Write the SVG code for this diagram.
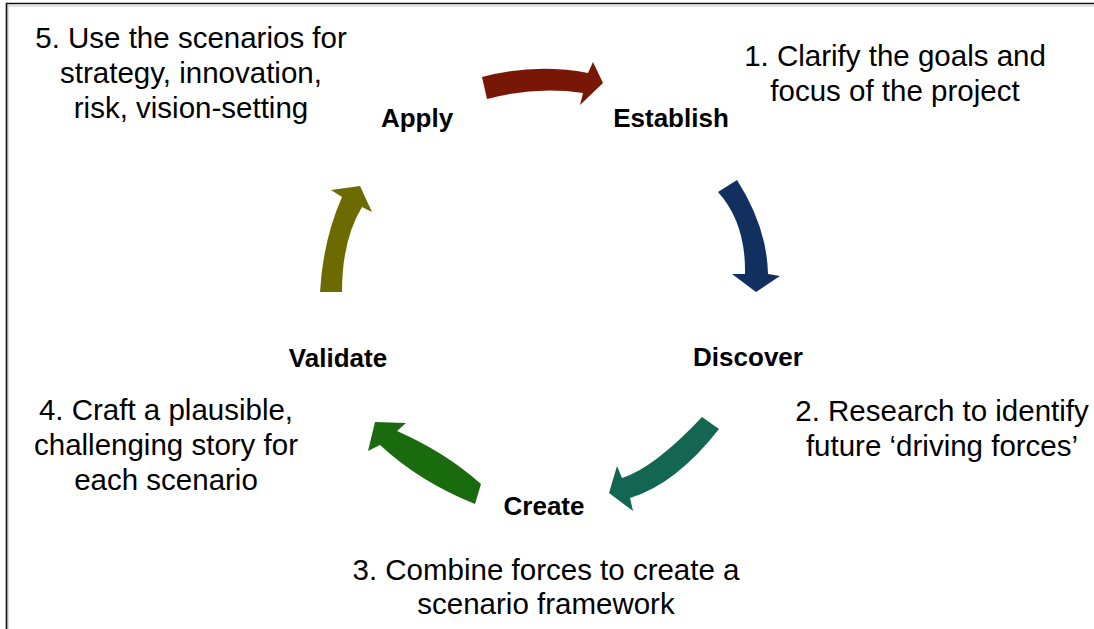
<svg xmlns="http://www.w3.org/2000/svg" width="1094" height="629" viewBox="0 0 1094 629">
  <style>
    .step { font-family: "Liberation Sans", Arial, sans-serif; font-size: 29.5px; fill: #000; text-anchor: middle; }
    .stage { font-family: "Liberation Sans", Arial, sans-serif; font-size: 26px; font-weight: bold; fill: #000; text-anchor: middle; }
    .frame { fill: none; stroke: #111; stroke-width: 1.6; }
    .frame-shade { fill: none; stroke: #c8c8c8; stroke-width: 1.2; }
  </style>

  <rect x="0" y="0" width="1094" height="629" fill="#fff"/>

  <!-- frame: top and left edges -->
  <path class="frame-shade" d="M8,629 V6 H1094"/>
  <path class="frame" d="M6.5,629 V3.5 H1094"/>

  <!-- curved cycle arrows -->
  <g id="connectors">
    <path id="arrow-apply-establish" fill="#781705" d="M482,77 Q535,63 588,73 L593,62 L603,83 L580,105 L583,93 Q535,86 487,99 Z"/>
    <path id="arrow-establish-discover" fill="#12305f" d="M718,192 L737,180 Q767,227 768,274 L780,276 L756,292 L732,274 L745,274 Q746,223 718,192 Z"/>
    <path id="arrow-discover-create" fill="#136651" d="M702,417 L719,429 Q676,484 630,498 L633,511 L609,493 L617,466 L622,478 Q654,468 702,417 Z"/>
    <path id="arrow-create-validate" fill="#196b0d" d="M375,422 L406,423 L397,431 Q445,452 481,484 L475,504 Q420,482 380,445 L368,451 Z"/>
    <path id="arrow-validate-apply" fill="#6d6b00" d="M320,292 Q323,240 342,197 L331,190 L360,186 L372,212 L362,207 Q342,240 342,292 Z"/>
  </g>

  <!-- stage labels -->
  <g id="node-apply"><text class="stage" x="417" y="127">Apply</text></g>
  <g id="node-establish"><text class="stage" x="671" y="127">Establish</text></g>
  <g id="node-discover"><text class="stage" x="748" y="366">Discover</text></g>
  <g id="node-create"><text class="stage" x="544" y="515">Create</text></g>
  <g id="node-validate"><text class="stage" x="338" y="367">Validate</text></g>

  <!-- step descriptions -->
  <g id="step-1">
    <text class="step" x="895" y="66">1. Clarify the goals and</text>
    <text class="step" x="895" y="101">focus of the project</text>
  </g>
  <g id="step-2">
    <text class="step" x="942" y="421">2. Research to identify</text>
    <text class="step" x="942" y="456">future ‘driving forces’</text>
  </g>
  <g id="step-3">
    <text class="step" x="546" y="580">3. Combine forces to create a</text>
    <text class="step" x="546" y="614">scenario framework</text>
  </g>
  <g id="step-4">
    <text class="step" x="166" y="420">4. Craft a plausible,</text>
    <text class="step" x="166" y="455">challenging story for</text>
    <text class="step" x="166" y="490">each scenario</text>
  </g>
  <g id="step-5">
    <text class="step" x="191" y="48">5. Use the scenarios for</text>
    <text class="step" x="191" y="83">strategy, innovation,</text>
    <text class="step" x="191" y="118">risk, vision-setting</text>
  </g>
</svg>
